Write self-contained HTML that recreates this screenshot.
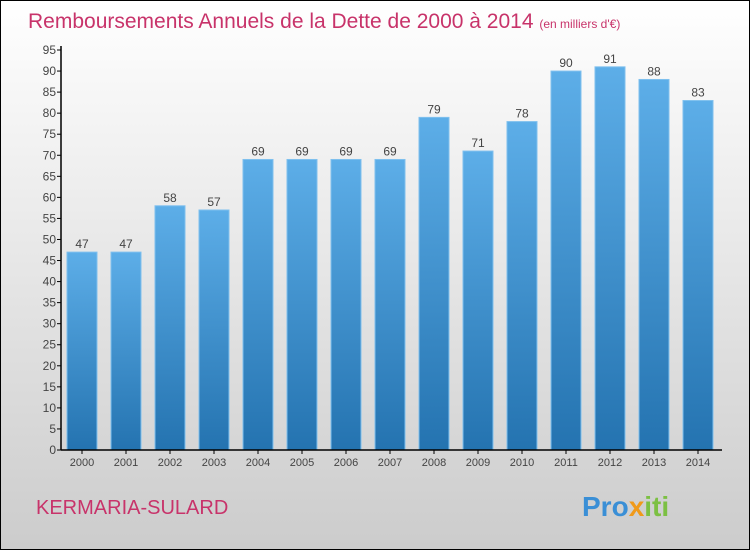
<!DOCTYPE html>
<html><head><meta charset="utf-8"><style>
body{margin:0;}
svg{display:block;font-family:"Liberation Sans",sans-serif;}
</style></head><body>
<svg id="chart" width="750" height="550" xmlns="http://www.w3.org/2000/svg">
<defs>
<linearGradient id="bg" x1="0" y1="0" x2="0" y2="1"><stop offset="0" stop-color="#ffffff"/><stop offset="1" stop-color="#cccccc"/></linearGradient>
<linearGradient id="bar" x1="0" y1="0" x2="0" y2="1"><stop offset="0" stop-color="#5daee8"/><stop offset="1" stop-color="#2473b0"/></linearGradient>
</defs>
<rect x="0.5" y="0.5" width="749" height="549" fill="url(#bg)" stroke="#000"/>
<text x="28" y="28" font-size="21" fill="#c8336a">Remboursements Annuels de la Dette de 2000 à 2014 <tspan font-size="12">(en milliers d'€)</tspan></text>
<g id="yaxis"></g><g id="bars"></g><g id="xaxis"></g>
<line x1="61" y1="46" x2="61" y2="450" stroke="#000" stroke-width="1.5"/>
<line x1="61" y1="450" x2="722" y2="450" stroke="#000" stroke-width="1.5"/>
<text x="36" y="514" font-size="20" fill="#c8336a">KERMARIA-SULARD</text>
<text x="582" y="516" font-size="28" font-weight="bold" fill="#3a8fd6">Pro<tspan fill="#f09a1a">x</tspan><tspan fill="#7cc043">iti</tspan></text>
</svg>
<script>
const categories=["2000","2001","2002","2003","2004","2005","2006","2007","2008","2009","2010","2011","2012","2013","2014"];
const values=[47,47,58,57,69,69,69,69,79,71,78,90,91,88,83];
const yTicks=[0,5,10,15,20,25,30,35,40,45,50,55,60,65,70,75,80,85,90,95];
const NS="http://www.w3.org/2000/svg";
const y=v=>450-v*400/95;
const x=i=>82+i*44;
function mk(t,a,p){const e=document.createElementNS(NS,t);for(const k in a)e.setAttribute(k,a[k]);p.appendChild(e);return e;}
const ya=document.getElementById('yaxis');
yTicks.forEach(v=>{
 const l=mk('line',{x1:57,x2:61,y1:y(v),y2:y(v),stroke:'#000'},ya);
 
 
 const t=mk('text',{x:56,y:y(v)+4,'text-anchor':'end','font-size':12,fill:'#444'},ya);
 t.textContent=v;
 
 
});
const bg=document.getElementById('bars'),xa=document.getElementById('xaxis');
categories.forEach((c,i)=>{
 const r=mk('rect',{x:x(i)-15,y:y(values[i]),width:30,height:450-y(values[i]),fill:'url(#bar)',stroke:'#7fc0ee','stroke-width':1},bg);
 
 
 const v=mk('text',{x:x(i),y:y(values[i])-4,'text-anchor':'middle','font-size':12,fill:'#444'},bg);
 v.textContent=values[i];
 
 
 const tk=mk('line',{x1:x(i),x2:x(i),y1:450,y2:454,stroke:'#000'},xa);
 
 
 const t=mk('text',{x:x(i),y:466,'text-anchor':'middle','font-size':11,fill:'#444'},xa);
 t.textContent=c;
 
 
});
</script>
</body></html>
